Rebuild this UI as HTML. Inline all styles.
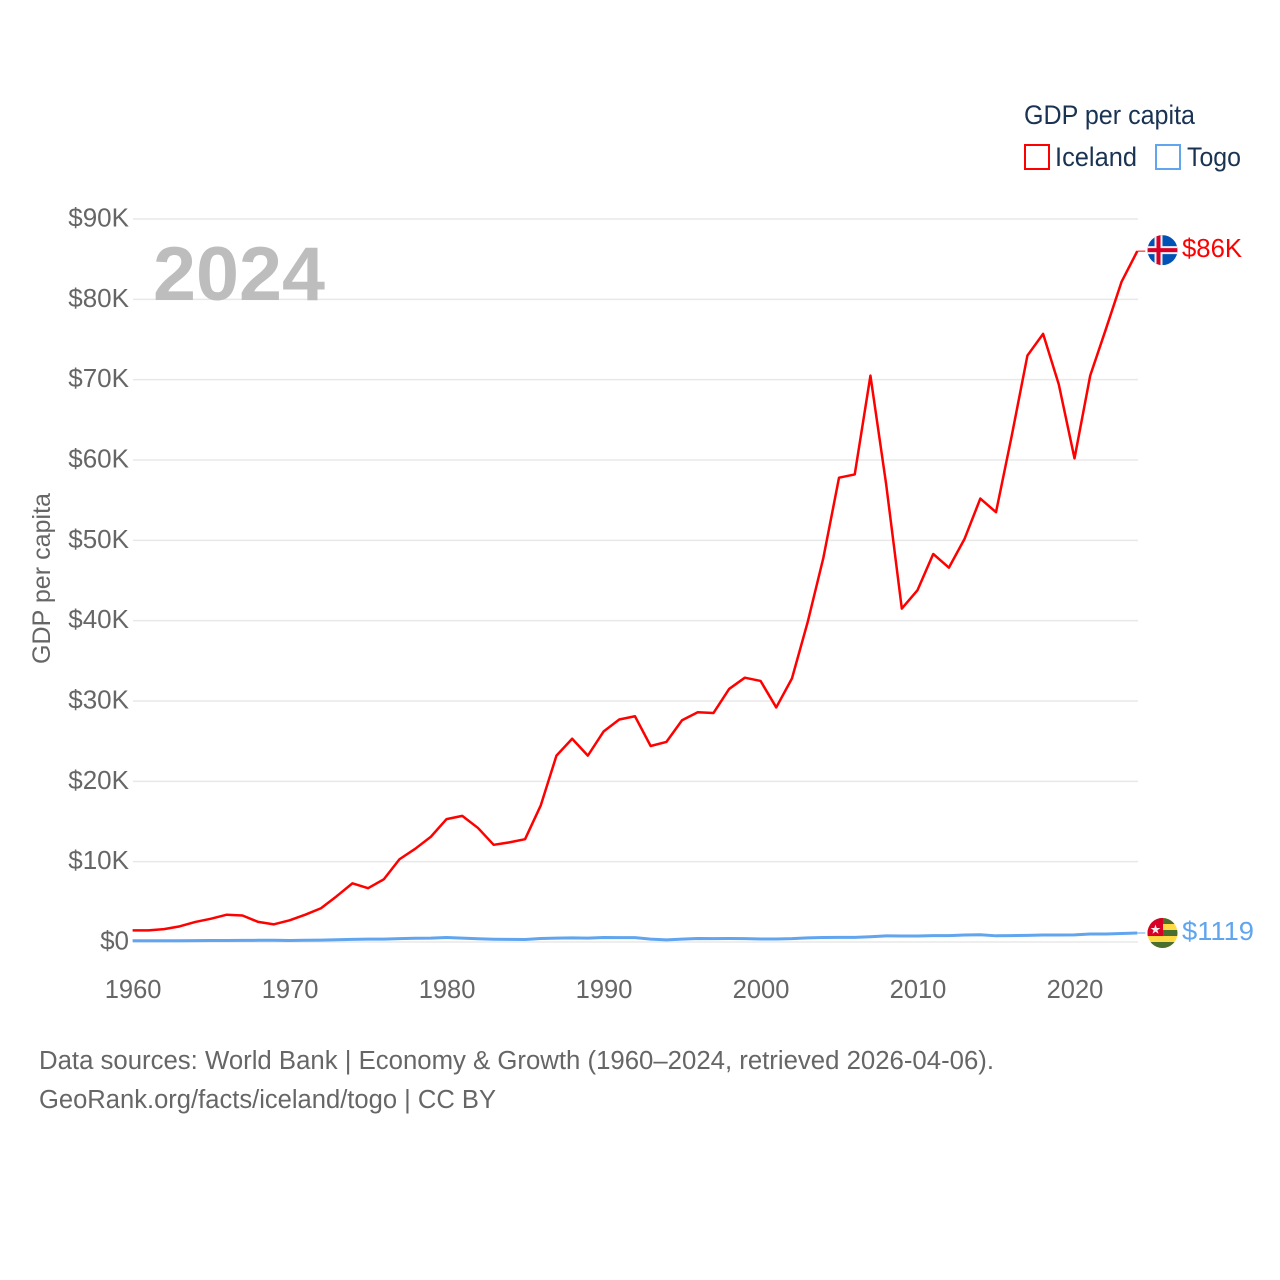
<!DOCTYPE html>
<html lang="en">
<head>
<meta charset="utf-8">
<title>GDP per capita: Iceland and Togo</title>
<style>
html,body{margin:0;padding:0;background:#fff;}
svg{display:block;font-family:"Liberation Sans",sans-serif;}
</style>
</head>
<body>
<svg id="chart" width="1280" height="1280" viewBox="0 0 1280 1280" xmlns="http://www.w3.org/2000/svg">
  <rect width="1280" height="1280" fill="#fff"/>
  <g id="grid"></g>
  <g id="yticks"></g>
  <g id="xticks"></g>
  <text x="153" y="300" font-size="76" font-weight="700" fill="#bdbdbd" textLength="172" lengthAdjust="spacingAndGlyphs">2024</text>
  <text transform="translate(50,664) rotate(-90)" font-size="25" fill="#666" textLength="171" lengthAdjust="spacingAndGlyphs">GDP per capita</text>
  <g id="series"></g>

  <g>
    <text x="1024" y="124" font-size="27" fill="#1a3353" textLength="171" lengthAdjust="spacingAndGlyphs">GDP per capita</text>
    <g>
      <rect x="1025" y="145" width="24" height="24" fill="none" stroke="#ff0000" stroke-width="2"/>
      <text x="1055" y="166" font-size="27" fill="#1a3353" textLength="82" lengthAdjust="spacingAndGlyphs">Iceland</text>
    </g>
    <g>
      <rect x="1156" y="145" width="24" height="24" fill="none" stroke="#60a5ee" stroke-width="2"/>
      <text x="1187" y="166" font-size="27" fill="#1a3353" textLength="54" lengthAdjust="spacingAndGlyphs">Togo</text>
    </g>
  </g>

  <defs>
    <clipPath id="flag-clip"><circle cx="15" cy="15" r="15"/></clipPath>
  </defs>
  <g id="flag-iceland">
    <g clip-path="url(#flag-clip)">
      <rect width="30" height="30" fill="#0052b4"/>
      <rect x="7" width="8" height="30" fill="#f0f0f0"/>
      <rect y="11" width="30" height="8" fill="#f0f0f0"/>
      <rect x="9" width="4" height="30" fill="#d80027"/>
      <rect y="13" width="30" height="4" fill="#d80027"/>
    </g>
  </g>
  <g id="flag-togo">
    <g clip-path="url(#flag-clip)">
      <rect width="30" height="30" fill="#ffda44"/>
      <rect width="30" height="6" fill="#496e2d"/>
      <rect y="12" width="30" height="6" fill="#496e2d"/>
      <rect y="24" width="30" height="6" fill="#496e2d"/>
      <rect width="15.5" height="18" fill="#d80027"/>
      <polygon points="8,6.5 9.2,10 12.9,10 9.9,12.2 11,15.7 8,13.6 5,15.7 6.1,12.2 3.1,10 6.8,10" fill="#f0f0f0"/>
    </g>
  </g>
  <text id="end-iceland" x="1182" font-size="26" fill="#ff0000" textLength="60" lengthAdjust="spacingAndGlyphs">$86K</text>
  <text id="end-togo" x="1182" font-size="26" fill="#60a5ee" textLength="72" lengthAdjust="spacingAndGlyphs">$1119</text>

  <text x="39" y="1069" font-size="25.5" fill="#666" textLength="955" lengthAdjust="spacingAndGlyphs">Data sources: World Bank | Economy &amp; Growth (1960–2024, retrieved 2026-04-06).</text>
  <text x="39" y="1108" font-size="25.5" fill="#666" textLength="457" lengthAdjust="spacingAndGlyphs">GeoRank.org/facts/iceland/togo | CC BY</text>
</svg>
<script>
const startYear = 1960;
const yTickValues = [0, 10, 20, 30, 40, 50, 60, 70, 80, 90];
const yTickLabels = ["$0", "$10K", "$20K", "$30K", "$40K", "$50K", "$60K", "$70K", "$80K", "$90K"];
const xTickYears = [1960, 1970, 1980, 1990, 2000, 2010, 2020];
const icelandValues = [
  1.45, 1.45, 1.6, 1.95, 2.5, 2.9, 3.4, 3.3, 2.5, 2.2,
  2.7, 3.4, 4.2, 5.7, 7.3, 6.7, 7.8, 10.3, 11.6, 13.1,
  15.3, 15.7, 14.2, 12.1, 12.4, 12.8, 17.0, 23.2, 25.3, 23.2,
  26.2, 27.7, 28.1, 24.4, 24.9, 27.6, 28.6, 28.5, 31.5, 32.9,
  32.5, 29.2, 32.8, 39.8, 47.8, 57.8, 58.2, 70.5, 57.0, 41.5,
  43.8, 48.3, 46.6, 50.2, 55.2, 53.5, 63.0, 73.0, 75.7, 69.4,
  60.2, 70.5, 76.3, 82.2, 86.0
];
const togoValues = [
  0.15, 0.15, 0.15, 0.16, 0.17, 0.18, 0.19, 0.20, 0.21, 0.22,
  0.19, 0.21, 0.23, 0.28, 0.33, 0.36, 0.36, 0.42, 0.46, 0.48,
  0.56, 0.48, 0.40, 0.35, 0.32, 0.31, 0.44, 0.48, 0.51, 0.48,
  0.56, 0.54, 0.54, 0.36, 0.27, 0.36, 0.44, 0.42, 0.44, 0.42,
  0.37, 0.37, 0.42, 0.52, 0.56, 0.57, 0.58, 0.65, 0.76, 0.75,
  0.74, 0.80, 0.80, 0.87, 0.90, 0.77, 0.80, 0.82, 0.87, 0.87,
  0.88, 1.00, 1.00, 1.06, 1.119
];

const NS = "http://www.w3.org/2000/svg";
const xScale = function (year) { return 132.6 + (year - 1960) * (1004.7 / 64); };
const yScale = function (v) { return 942 - v * (723 / 90); };

function make(tag, parentId) {
  const el = document.createElementNS(NS, tag);
  document.getElementById(parentId).appendChild(el);
  return el;
}

yTickValues.forEach(function (v, i) {
  const line = make("line", "grid");
  
  
  line.setAttribute("x1", 133);
  line.setAttribute("x2", 1138);
  line.setAttribute("y1", yScale(v));
  line.setAttribute("y2", yScale(v));
  line.setAttribute("stroke", "#e8e8e8");
  line.setAttribute("stroke-width", "1.5");

  const label = make("text", "yticks");
  
  
  label.setAttribute("x", 129);
  label.setAttribute("y", yScale(v) + 7.5);
  label.setAttribute("text-anchor", "end");
  label.setAttribute("font-size", "26");
  label.setAttribute("fill", "#666");
  label.textContent = yTickLabels[i];
});

xTickYears.forEach(function (year) {
  const label = make("text", "xticks");
  
  
  label.setAttribute("x", xScale(year) + 0.5);
  label.setAttribute("y", 998);
  label.setAttribute("text-anchor", "middle");
  label.setAttribute("font-size", "25.5");
  label.setAttribute("fill", "#666");
  label.textContent = String(year);
});

function pathFor(values) {
  return values.map(function (v, i) {
    return (i ? "L" : "M") + xScale(startYear + i).toFixed(2) + " " + yScale(v).toFixed(2);
  }).join(" ");
}

function drawSeries(values, color, name, width) {
  const path = make("path", "series");
  
  
  path.setAttribute("d", pathFor(values));
  path.setAttribute("fill", "none");
  path.setAttribute("stroke", color);
  path.setAttribute("stroke-width", width);
  path.setAttribute("stroke-linejoin", "round");

  const lastY = yScale(values[values.length - 1]);
  const leader = make("line", "series");
  
  
  leader.setAttribute("x1", xScale(startYear + values.length - 1));
  leader.setAttribute("x2", xScale(startYear + values.length - 1) + 8);
  leader.setAttribute("y1", lastY);
  leader.setAttribute("y2", lastY);
  leader.setAttribute("stroke", color);
  leader.setAttribute("stroke-width", "1");
  return lastY;
}

const togoEndY = drawSeries(togoValues, "#60a5ee", "togo-line", "3");
const icelandEndY = drawSeries(icelandValues, "#ff0000", "iceland-line", "2.5");

document.getElementById("flag-iceland").setAttribute("transform", "translate(1147.5," + (icelandEndY - 16) + ")");
document.getElementById("flag-togo").setAttribute("transform", "translate(1147.5," + (togoEndY - 15) + ")");
document.getElementById("end-iceland").setAttribute("y", icelandEndY + 6);
document.getElementById("end-togo").setAttribute("y", togoEndY + 7);
</script>
</body>
</html>
